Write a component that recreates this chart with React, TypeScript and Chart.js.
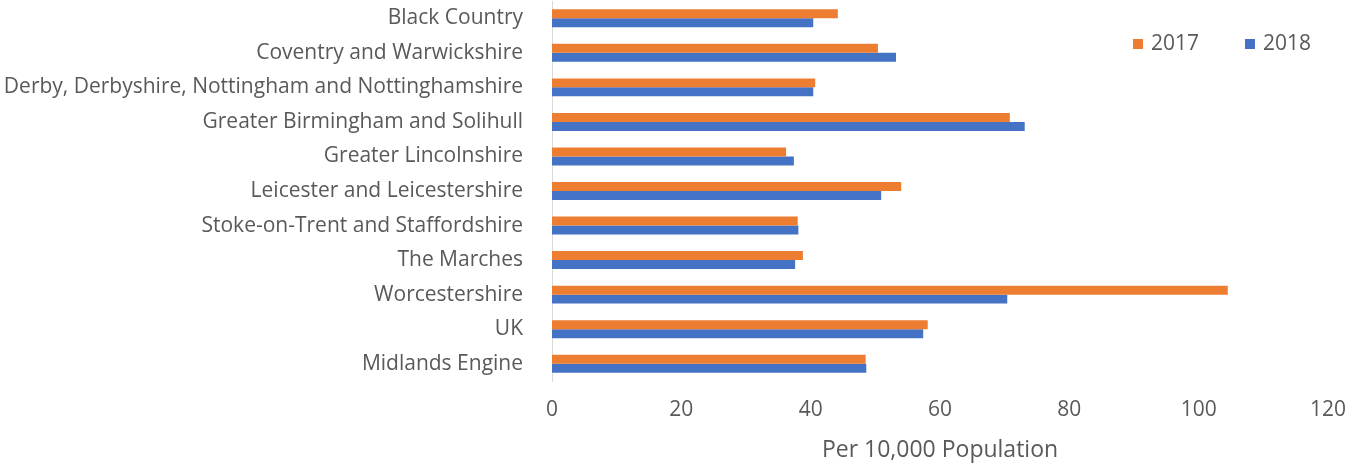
import React, { useEffect, useRef } from "react";
import { Chart, registerables } from "chart.js";

Chart.register(...registerables);

const categories = [
  "Black Country",
  "Coventry and Warwickshire",
  "Derby, Derbyshire, Nottingham and Nottinghamshire",
  "Greater Birmingham and Solihull",
  "Greater Lincolnshire",
  "Leicester and Leicestershire",
  "Stoke-on-Trent and Staffordshire",
  "The Marches",
  "Worcestershire",
  "UK",
  "Midlands Engine",
];

const values2017 = [44.2, 50.4, 40.7, 70.8, 36.2, 54.0, 38.0, 38.8, 104.5, 58.1, 48.5];
const values2018 = [40.4, 53.2, 40.4, 73.1, 37.4, 50.9, 38.1, 37.6, 70.4, 57.4, 48.6];

const xTicks = [0, 20, 40, 60, 80, 100, 120];
const xTitle = "Per 10,000 Population";

const FONT = "'Open Sans', 'Noto Sans', sans-serif";
const TEXT = "#595959";
const ORANGE = "#ED7D31";
const BLUE = "#4472C4";

const legendPlugin = {
  id: "customLegend",
  afterDraw(chart: any) {
    const ctx = chart.ctx;
    const items = [
      { label: "2017", color: ORANGE, x: 1133 },
      { label: "2018", color: BLUE, x: 1245 },
    ];
    ctx.save();
    ctx.font = `21px ${FONT}`;
    ctx.textBaseline = "middle";
    ctx.textAlign = "left";
    items.forEach((it) => {
      ctx.fillStyle = it.color;
      ctx.fillRect(it.x, 39, 10, 10);
      ctx.fillStyle = TEXT;
      ctx.fillText(it.label, it.x + 18, 44);
    });
    ctx.restore();
  },
};

export default function App() {
  const ref = useRef<HTMLCanvasElement | null>(null);
  useEffect(() => {
    if (!ref.current) return;
    const chart = new Chart(ref.current, {
      type: "bar",
      data: {
        labels: categories,
        datasets: [
          {
            label: "2017",
            data: values2017,
            backgroundColor: ORANGE,
            categoryPercentage: 0.52,
            barPercentage: 1,
          },
          {
            label: "2018",
            data: values2018,
            backgroundColor: BLUE,
            categoryPercentage: 0.52,
            barPercentage: 1,
          },
        ],
      },
      options: {
        indexAxis: "y",
        animation: false,
        responsive: false,
        maintainAspectRatio: false,
        layout: { padding: { left: 0, right: 27, top: 1, bottom: 0 } },
        plugins: {
          legend: { display: false },
          tooltip: { enabled: false },
        },
        scales: {
          x: {
            min: 0,
            max: 120,
            afterBuildTicks: (scale: any) => {
              scale.ticks = xTicks.map((v) => ({ value: v }));
            },
            grid: { display: false, drawTicks: false },
            border: { display: false },
            ticks: {
              color: TEXT,
              font: { family: FONT, size: 21 },
              padding: 16,
            },
            title: {
              display: true,
              text: xTitle,
              color: TEXT,
              font: { family: FONT, size: 23 },
              padding: { top: 10, bottom: 5 },
            },
            afterFit: (scale: any) => {
              scale.height = 88;
              scale.paddingLeft = 0;
              scale.paddingRight = 0;
            },
          },
          y: {
            grid: { display: false, drawTicks: false },
            border: { display: true, color: "#D9D9D9", width: 1 },
            ticks: {
              color: TEXT,
              font: { family: FONT, size: 21 },
              padding: 29,
              autoSkip: false,
            },
            afterFit: (scale: any) => {
              scale.width = 552;
              scale.paddingTop = 0;
              scale.paddingBottom = 0;
            },
          },
        },
      },
      plugins: [legendPlugin],
    });
    return () => chart.destroy();
  }, []);
  return (
    <div style={{ position: "fixed", left: 0, top: 0, width: 1355, height: 469, background: "#fff" }}>
      <canvas ref={ref} width={1355} height={469} style={{ width: 1355, height: 469 }} />
    </div>
  );
}
